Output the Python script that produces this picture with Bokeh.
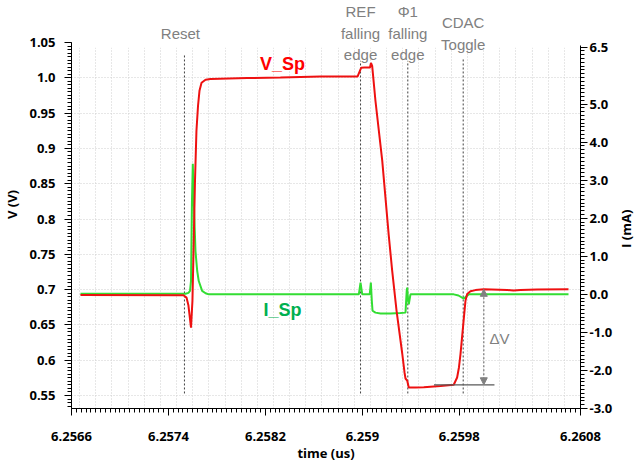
import math
import numpy as np
from bokeh.plotting import figure
from bokeh.models import (Range1d, LinearAxis, FixedTicker, CustomJSTickFormatter,
                          Label, Arrow, NormalHead, BoxAnnotation)
from bokeh.embed import file_html
from bokeh.resources import INLINE

# ---------------- data ----------------
t_v = [6.256674, 6.257524, 6.257549, 6.257565, 6.257586, 6.257598, 6.257607, 6.257619,
       6.257631, 6.257644, 6.257656, 6.257673, 6.257706, 6.257747, 6.258050, 6.258324,
       6.258655, 6.258960, 6.258990, 6.259018, 6.259063, 6.259071, 6.259081, 6.259108,
       6.259164, 6.259218, 6.259246, 6.259282, 6.259329, 6.259348, 6.259356, 6.259370,
       6.259383, 6.259438, 6.259507, 6.259645, 6.259754, 6.259782, 6.259797, 6.259810,
       6.259824, 6.259837, 6.259851, 6.259865, 6.259892, 6.259933, 6.260002, 6.260195,
       6.260247, 6.260305, 6.260442, 6.260701]
v_sp = [0.6922, 0.6920, 0.6887, 0.6774, 0.6462, 0.6844, 0.7552, 0.8543,
        0.9250, 0.9604, 0.9816, 0.9929, 0.9972, 0.9982, 0.9996, 1.0004,
        1.0017, 1.0017, 1.0142, 1.0146, 1.0146, 1.0212, 1.0170, 0.9675,
        0.8826, 0.7764, 0.7269, 0.6703, 0.6095, 0.5826, 0.5741, 0.5712,
        0.5613, 0.5613, 0.5618, 0.5635, 0.5652, 0.5755, 0.5897, 0.6090,
        0.6349, 0.6590, 0.6844, 0.6939, 0.6976, 0.6993, 0.7004, 0.6996,
        0.6986, 0.6996, 0.7000, 0.7004]

t_i = [6.256674, 6.257541, 6.257565, 6.257578, 6.257586, 6.257594, 6.257601, 6.257609,
       6.257623, 6.257637, 6.257650, 6.257678, 6.257706, 6.257733, 6.258971, 6.258985,
       6.258999, 6.259061, 6.259070, 6.259078, 6.259084, 6.259108, 6.259150, 6.259232,
       6.259315, 6.259356, 6.259366, 6.259370, 6.259376, 6.259383, 6.259397, 6.259754,
       6.259793, 6.259837, 6.259859, 6.259878, 6.260701]
i_sp = [0.015, 0.015, 0.04, 0.09, 0.35, 2.45, 3.43, 2.45,
        1.14, 0.62, 0.35, 0.09, 0.03, 0.00, 0.00, 0.31,
        0.00, 0.00, 0.31, -0.17, -0.43, -0.48, -0.50, -0.50,
        -0.49, -0.48, 0.09, 0.18, -0.12, -0.26, 0.00, 0.00,
        -0.03, -0.11, -0.05, 0.00, 0.00]

x_ticks = [6.2566, 6.2574, 6.2582, 6.2590, 6.2598, 6.2608]
x_tick_labels = ["6.2566", "6.2574", "6.2582", "6.259", "6.2598", "6.2608"]
v_ticks = [0.55, 0.6, 0.65, 0.7, 0.75, 0.8, 0.85, 0.9, 0.95, 1.0, 1.05]
v_tick_labels = ["0.55", "0.6", "0.65", "0.7", "0.75", "0.8", "0.85", "0.9", "0.95", "1.0", "1.05"]
i_ticks = [-3.0, -2.0, -1.0, 0.0, 1.0, 2.0, 3.0, 4.0, 5.0, 6.5]
i_tick_labels = ["-3.0", "-2.0", "-1.0", "0.0", "1.0", "2.0", "3.0", "4.0", "5.0", "6.5"]

event_t = [6.257532, 6.258985, 6.259375, 6.259832]
event_top = [1.0340, 1.0241, 1.0241, 1.0283]
event_labels = ["Reset", "REF\nfalling\nedge", "\u03a61\nfalling\nedge", "CDAC\nToggle"]

dv_ref_t = 6.259754      # end of the low plateau (before CDAC toggle)
dv_arrow_t = 6.260002    # where the delta-V arrow is drawn

# ---------------- styling ----------------
RED = "#ee1111"
GREEN = "#33dd33"
GREEN_TXT = "#00b050"
GREY = "#808080"
SANS = "Liberation Sans"
FONT = "Open Sans"


def fmt(tv, tl):
    return CustomJSTickFormatter(args=dict(tvals=tv, tlabels=tl), code="""
        for (let k = 0; k < tvals.length; k++) {
            if (Math.abs(tvals[k] - tick) < 1e-7) return tlabels[k];
        }
        return "";
    """)


p = figure(width=638, height=464,
           x_range=Range1d(6.2566, 6.2608), y_range=Range1d(0.5316, 1.1095),
           output_backend="svg", toolbar_location=None,
           min_border_left=71, min_border_right=58, min_border_top=0, min_border_bottom=56)
p.outline_line_color = None
p.extra_y_ranges = {"i": Range1d(-3.0, 7.724)}

raxis = LinearAxis(y_range_name="i")
p.add_layout(raxis, "right")


def style_axis(ax):
    ax.axis_line_color = "black"
    ax.major_tick_line_color = "black"
    ax.minor_tick_line_color = "black"
    ax.major_tick_in = 0
    ax.major_tick_out = 7
    ax.minor_tick_in = 0
    ax.minor_tick_out = 4
    ax.major_label_text_font = FONT
    ax.major_label_text_font_style = "bold"
    ax.major_label_text_font_size = "13px"
    ax.major_label_text_color = "black"
    ax.axis_label_text_font = FONT
    ax.axis_label_text_font_style = "bold"
    ax.axis_label_text_font_size = "13px"
    ax.axis_label_text_color = "black"


xa = p.xaxis[0]
ya = p.yaxis[0]
for ax in (xa, ya, raxis):
    style_axis(ax)

xa.ticker = FixedTicker(ticks=x_ticks,
                        minor_ticks=list(np.arange(6.2566, 6.26081, 0.00004)))
xa.formatter = fmt(x_ticks, x_tick_labels)
xa.axis_label = "time (us)"
xa.major_label_standoff = 16
xa.axis_label_standoff = 0

ya.ticker = FixedTicker(ticks=v_ticks,
                        minor_ticks=list(np.arange(0.535, 1.0501, 0.005)))
ya.formatter = fmt(v_ticks, v_tick_labels)
ya.bounds = (0.5316, 1.0505)
ya.axis_label = "V (V)"
ya.major_label_standoff = 9
ya.axis_label_standoff = 5

raxis.ticker = FixedTicker(ticks=i_ticks,
                           minor_ticks=list(np.arange(-3.0, 6.51, 0.1)))
raxis.formatter = fmt(i_ticks, i_tick_labels)
raxis.bounds = (-3.0, 6.55)
raxis.major_label_standoff = 2

# right-hand axis title, reading bottom-to-top as in the reference
p.add_layout(Label(x=6.2611750, y=0.7861, text="I (mA)", angle=math.pi / 2,
                   text_align="center", text_baseline="middle", text_font=FONT,
                   text_font_style="bold", text_font_size="13px", text_color="black"),
             "right")

# grids
step = 0.0004 / 3
p.xgrid.ticker = FixedTicker(ticks=list(np.arange(6.2568 - step, 6.2608, step)))
p.ygrid.ticker = FixedTicker(ticks=v_ticks[:-1])
p.xgrid.grid_line_color = "#cfcfcf"
p.ygrid.grid_line_color = "#cfcfcf"
p.xgrid.grid_line_dash = "1 2"
p.ygrid.grid_line_dash = "1 2"

# blank band above the plotting area (where the event captions sit)
p.add_layout(BoxAnnotation(bottom=1.0425, fill_color="white", fill_alpha=1.0,
                           line_color=None, level="underlay"))

# event markers
p.segment(x0=event_t, y0=[0.5529] * len(event_t), x1=event_t, y1=event_top,
          line_color="#404040", line_dash="2 2", line_width=1)

# curves
p.line(t_i, i_sp, y_range_name="i", line_color=GREEN, line_width=2)
p.line(t_v, v_sp, line_color=RED, line_width=2)

# delta V annotation
v_bottom = float(np.interp(dv_ref_t, t_v, v_sp))
v_top = float(np.interp(dv_arrow_t, t_v, v_sp))
p.segment(x0=[dv_ref_t - 0.000163], x1=[dv_arrow_t + 0.000088], y0=[v_bottom], y1=[v_bottom],
          line_color="#595959", line_width=1.3)
p.add_layout(Arrow(x_start=dv_arrow_t, y_start=v_top, x_end=dv_arrow_t, y_end=v_bottom,
                   line_color=GREY, line_dash="2 2", line_width=1.3,
                   start=NormalHead(size=7, fill_color=GREY, line_color=GREY),
                   end=NormalHead(size=7, fill_color=GREY, line_color=GREY)))

# captions for events
line_gap = 0.0304
x_offsets = [-4, 0, 0, 0]
for t, txt, xo in zip(event_t, event_labels, x_offsets):
    lines = txt.split("\n")
    n = len(lines)
    for k, ln in enumerate(lines):
        yy = 1.0630 + ((n - 1) / 2 - k) * line_gap
        p.add_layout(Label(x=t, y=yy, x_offset=xo, text=ln, text_align="center",
                           text_baseline="middle", text_font=SANS,
                           text_font_size="15px", text_color=GREY))

p.add_layout(Label(x=6.258341, y=1.0198, text="V_Sp", text_align="center",
                   text_baseline="middle", text_font=SANS, text_font_style="bold",
                   text_font_size="18px", text_color="#ff0000"))
p.add_layout(Label(x=6.258341, y=0.6717, text="I_Sp", text_align="center",
                   text_baseline="middle", text_font=SANS, text_font_style="bold",
                   text_font_size="18px", text_color=GREEN_TXT))
p.add_layout(Label(x=6.2601314, y=0.6307, text="\u0394V", text_align="center",
                   text_baseline="middle", text_font=SANS,
                   text_font_size="15px", text_color=GREY))

open("out.html", "w").write(file_html(p, INLINE))
